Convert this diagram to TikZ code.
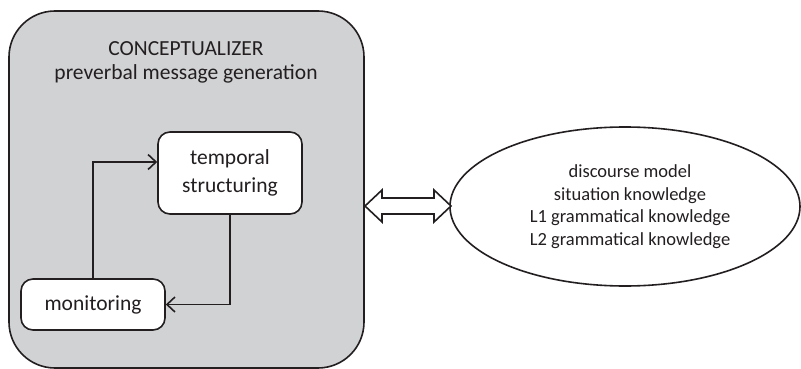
\documentclass[tikz,border=0pt]{standalone}
\usepackage{fontspec}
\setmainfont{Carlito}
\usetikzlibrary{arrows.meta,shapes.geometric}
\definecolor{boxgray}{RGB}{209,210,212}
\definecolor{ink}{RGB}{35,31,32}
\tikzset{
  bigbox/.style={draw=ink, line width=1.6pt, fill=boxgray, rounded corners=46pt, minimum width=355pt, minimum height=357pt, inner sep=0pt},
  smallbox/.style={draw=ink, line width=1.6pt, fill=white, rounded corners=12pt, inner sep=0pt, align=center, font=\fontsize{21.5}{28}\selectfont, text=ink},
  conn/.style={draw=ink, line width=1.6pt, -{Straight Barb[length=8pt,width=15pt,line width=1.6pt]}},
  title/.style={font=\fontsize{21.5}{24}\selectfont, text=ink, anchor=base, inner sep=0pt},
  knowledge/.style={draw=ink, line width=1.6pt, ellipse, fill=white, minimum width=350pt, minimum height=159pt, inner sep=0pt, align=center, font=\fontsize{18.5}{22.5}\selectfont, text=ink}
}
\begin{document}
\begin{tikzpicture}[x=1pt,y=-1pt]
\useasboundingbox (0,0) rectangle (801,369);
\node[bigbox] (concept) at (186.5,189.5) {};
\node[title] (t1) at (186,56) {CONCEPTUALIZER};
\node[title] (t2) at (186,80) {preverbal message generation};
\node[smallbox, minimum width=144pt, minimum height=82pt] (tmp) at (230,173) {temporal\\structuring};
\node[smallbox, minimum width=144pt, minimum height=51pt] (mon) at (93,304.5) {monitoring};
\draw[conn] (mon.north) |- ([yshift=11pt]tmp.west);
\draw[conn] (tmp.south) |- (mon.east);
\node[knowledge] (know) at (625,206.5) {\hspace*{10pt}discourse model\\\hspace*{10pt}situation knowledge\\\hspace*{10pt}L1 grammatical knowledge\\\hspace*{10pt}L2 grammatical knowledge};
\draw[draw=ink, line width=1.6pt, fill=white, line join=miter]
  (365,206) -- (382,190) -- (382,198) -- (434,198) -- (434,190) -- (451,206)
  -- (434,222) -- (434,214) -- (382,214) -- (382,222) -- cycle;
\end{tikzpicture}
\end{document}
